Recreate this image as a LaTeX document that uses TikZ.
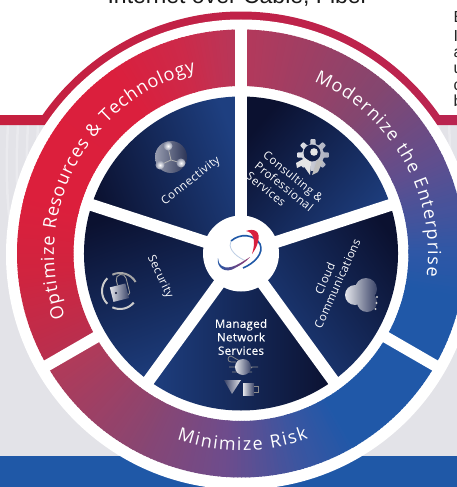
\documentclass[tikz,border=0pt]{standalone}
\usepackage{fontspec}
\usetikzlibrary{decorations.text}
\setmainfont{Open Sans}
\newfontfamily\bandfont{Open Sans}
\newfontfamily\labfont[LetterSpace=4]{Open Sans}
\newfontfamily\medfont[LetterSpace=3,FakeBold=0.4]{Open Sans}
\newfontfamily\pagefont{Liberation Sans}
\definecolor{bggrey}{HTML}{E3E3E8}
\definecolor{bgline}{HTML}{EAEAEE}
\definecolor{footblue}{HTML}{1F58A7}
\definecolor{ribL}{HTML}{C6203F}
\definecolor{ribR}{HTML}{BA2450}
\definecolor{wdark}{HTML}{0B1130}
\definecolor{wblue}{HTML}{1E3F80}
\definecolor{icl}{HTML}{E4E5EA}
\definecolor{icd}{HTML}{3A4468}
\definecolor{sA}{HTML}{B23A58}
\definecolor{sB}{HTML}{8B4570}
\definecolor{sC}{HTML}{6E4C8C}
\definecolor{sD}{HTML}{3C55A0}
\definecolor{sE}{HTML}{2058A8}
\definecolor{sF}{HTML}{2F57A6}
\definecolor{sG}{HTML}{604E8E}
\definecolor{sH}{HTML}{85466F}
\definecolor{sI}{HTML}{B6385A}
\definecolor{sJ}{HTML}{CC2A4A}
\definecolor{sK}{HTML}{DB1F3D}
\definecolor{sL}{HTML}{DC1F3C}
\definecolor{sM}{HTML}{D0243F}
\definecolor{sN}{HTML}{B8304F}
\definecolor{logoR}{HTML}{D8203F}
\definecolor{logoB}{HTML}{1F58A7}
\definecolor{logoP}{HTML}{7A4585}
\tikzset{
  toptext/.style={font=\pagefont\fontsize{23}{25}\selectfont,text=black!90,inner sep=0pt,anchor=base},
  sidetext/.style={font=\pagefont\fontsize{16}{18}\selectfont,text=black!85,inner sep=0pt,anchor=base west},
  wlabel/.style={font=\labfont\fontsize{11.5}{13.5}\selectfont,text=white,inner sep=0pt,align=center},
  sepline/.style={white,line width=12pt},
  iconshade/.style={left color=icl,right color=icd},
}
\newcommand\gradarc[4]{%
  \pgfmathtruncatemacro\gn{abs(#2-#1)}%
  \foreach \i in {0,...,\gn}{%
    \pgfmathsetmacro\anga{#1+(#2-#1)*\i/\gn}%
    \pgfmathsetmacro\angb{\anga+1.3}%
    \pgfmathtruncatemacro\pc{100*\i/\gn}%
    \fill[#4!\pc!#3] (\anga:167.5pt) arc[start angle=\anga,end angle=\angb,radius=167.5pt]
      -- (\angb:224pt) arc[start angle=\angb,end angle=\anga,radius=224pt] -- cycle;
  }}
\newcommand\sectorfill[3]{%
  \shade[bottom color=wdark,top color=wblue,shading angle=#3]
    (0,0) -- (#1:157pt) arc[start angle=#1,end angle=#2,radius=157pt] -- cycle;}
\begin{document}
\begin{tikzpicture}[x=1pt,y=-1pt]
\useasboundingbox (0,0) rectangle (457,487);
\clip (0,0) rectangle (457,487);
% background
\fill[white] (0,0) rectangle (457,487);
\fill[bggrey] (0,125) rectangle (457,456);
\foreach \d in {0,10,...,90}{
  \draw[bgline,line width=2.5pt] (8+\d,125) .. controls (0+\d,260) and (30+\d,360) .. (120+\d,456);
  \draw[bgline,line width=2.5pt] (449-\d,125) .. controls (457-\d,260) and (430-\d,360) .. (337-\d,456);
}
\fill[footblue] (0,456) rectangle (457,487);
% top ribbon
\begin{scope}[shift={(241,253.5)},y=1pt]
  \shade[left color=ribL,right color=ribR]
    (-241,138.5) -- (145.1:242pt) arc[start angle=145.1,end angle=34.9,radius=242pt]
    -- (216,138.5) -- (216,128.5) -- (-241,128.5) -- cycle;
\end{scope}
\fill[white] (241,254.5) circle[radius=235];
% rings and wedges
\begin{scope}[shift={(241,253.5)},y=1pt]
  \gradarc{-150}{-120}{sA}{sB}
  \gradarc{-120}{-95}{sB}{sC}
  \gradarc{-95}{-75}{sC}{sD}
  \gradarc{-75}{-60}{sD}{sE}
  \gradarc{-60}{-12}{sE}{sE}
  \gradarc{-12}{0}{sE}{sF}
  \gradarc{0}{25}{sF}{sG}
  \gradarc{25}{50}{sG}{sH}
  \gradarc{50}{90}{sH}{sI}
  \gradarc{90}{105}{sI}{sJ}
  \gradarc{105}{125}{sJ}{sK}
  \gradarc{125}{165}{sK}{sL}
  \gradarc{165}{185}{sL}{sM}
  \gradarc{185}{209}{sM}{sN}
  \sectorfill{90}{162}{-70}
  \sectorfill{18}{90}{-130}
  \sectorfill{-54}{18}{125}
  \sectorfill{-126}{-54}{90}
  \sectorfill{162}{234}{-160}
  \foreach \a in {90,162,234,306,18}
    \draw[sepline] (0,0) -- (\a:160pt);
  \foreach \a in {90,210,-30}
    \draw[white,line width=11.5pt] (\a:160pt) -- (\a:226pt);
  \fill[white] (0,0) circle[radius=38pt];
  % curved band titles
  \path[decorate,decoration={text along path,text align={fit to path},
    text={|\bandfont\fontsize{18}{20}\selectfont\color{white}|Optimize Resources {\&} Technology}}]
    (200:187pt) arc[start angle=200,end angle=104,radius=187pt];
  \path[decorate,decoration={text along path,text align={fit to path},
    text={|\bandfont\fontsize{18}{20}\selectfont\color{white}|Modernize the Enterprise}}]
    (67:187pt) arc[start angle=67,end angle=-7,radius=187pt];
  \path[decorate,decoration={text along path,text align={fit to path},
    text={|\bandfont\fontsize{18}{20}\selectfont\color{white}|Minimize Risk}}]
    (-109:197pt) arc[start angle=-109,end angle=-70,radius=197pt];
\end{scope}
% wedge labels
\node[wlabel,rotate=38] (conn) at (191,181) {Connectivity};
\node[wlabel,rotate=-39,align=left] (cons) at (285,187) {Consulting \&\\Professional\\Services};
\node[wlabel,rotate=66] (cloud) at (331,281) {Cloud\\Communications};
\node[wlabel,font=\medfont\fontsize{11.5}{13.5}\selectfont] (mns) at (241,337) {Managed\\Network\\Services};
\node[wlabel,rotate=-65] (sec) at (160,277) {Security};
% page text
\node[toptext] (head) at (238,3.5) {Internet over Cable, Fiber};
\node[sidetext] (s1) at (453.5,23) {E};
\node[sidetext] (s2) at (453.5,42) {I};
\node[sidetext] (s3) at (453.5,58) {a};
\node[sidetext] (s4) at (453.5,74) {u};
\node[sidetext] (s5) at (453.5,90) {c};
\node[sidetext] (s6) at (453.5,106) {b};
% connectivity icon
\shade[left color=icl!55!icd,right color=icd!70!wdark] (171,157) circle[radius=16];
\draw[white!70!black,line width=.8pt] (168,147) -- (171,160) -- (160,165) (171,160) -- (181,163);
\foreach \p in {(168,146),(160,165),(181,163)}
  \shade[inner color=white,outer color=icl!50!icd] \p circle[radius=4.5];
% consulting icon
\shade[left color=icl,right color=icd!45!white]
  plot[samples=145,domain=0:360] ({313+(13.5+2.5*max(min(3*cos(8*\x),1),-1))*cos(\x)},{155+(13.5+2.5*max(min(3*cos(8*\x),1),-1))*sin(\x)}) -- cycle;
\fill[wdark!70!wblue] (312,153) circle[radius=8.5];
\fill[white!90!black] (314,152) circle[radius=3.8];
\fill[white!90!black] (296,163) -- (305,158) -- (311,162) -- (310,175) -- (303,165) -- (297,168) -- cycle;
\fill[white!75!black] (317,160) -- (323,161) -- (318,172) -- (312,175) -- cycle;
% cloud icon
\shade[iconshade] (355,295) circle[radius=10] (366,289) circle[radius=11] (367,302) circle[radius=10];
\foreach \p in {(377,297),(376.5,303),(375.5,309)}
  \fill[white!80!black] \p circle[radius=1.1];
% lock icon
\begin{scope}[shift={(120,291)},y=1pt]
  \draw[white!65!black,line width=2pt] (30:18pt) arc[start angle=30,end angle=115,radius=18pt];
  \draw[white!80!black,line width=2pt] (135:18pt) arc[start angle=135,end angle=225,radius=18pt];
  \draw[white!80!black,line width=2pt] (245:18pt) arc[start angle=245,end angle=320,radius=18pt];
  \shade[iconshade,rotate=14] (-9,-9) rectangle (7,6);
  \draw[white!60!black,line width=.9pt,rotate=14] (-1,6) -- (-1,11) arc[start angle=180,end angle=0,radius=5pt] -- (9,-4) -- (7,-6);
  \fill[wdark] (-4,-2) circle[radius=1.2pt];
\end{scope}
% managed icon
\draw[white!55!black,line width=.8pt] (229,367) -- (258,367) (236,362) -- (231,362) arc[start angle=90,end angle=270,radius=3] -- (252,368) (252,372) -- (232,372);
\shade[iconshade] (243,367) circle[radius=8];
\shade[left color=icd,right color=icl] (224,380) -- (241,380) -- (232,394) -- cycle;
\shade[left color=icl,right color=icd] (243,383) rectangle (254,395);
\draw[white!55!black,line width=.8pt] (254,386) -- (258,386) -- (258,392) -- (254,392);
% logo
\draw[logoB,line width=1.6pt] (231,241) .. controls (240,233) and (254,234) .. (260,244) .. controls (264,253) and (255,263) .. (243,268);
\draw[white!70!logoB,line width=.8pt] (231,241) .. controls (228,246) and (232,255) .. (246,261);
\fill[logoR] (246,231) .. controls (254,228) and (261,231) .. (258,242) .. controls (257,246) and (255,250) .. (252,254) .. controls (256,242) and (254,232) .. (246,231) -- cycle;
\shade[left color=logoB,right color=logoP!70!logoR] (218,258) .. controls (216,268) and (226,274) .. (235,268) .. controls (241,265) and (247,261) .. (250,257) .. controls (242,262) and (230,271) .. (222,266) .. controls (219,264) and (218,261) .. (218,258) -- cycle;
\end{tikzpicture}
\end{document}
